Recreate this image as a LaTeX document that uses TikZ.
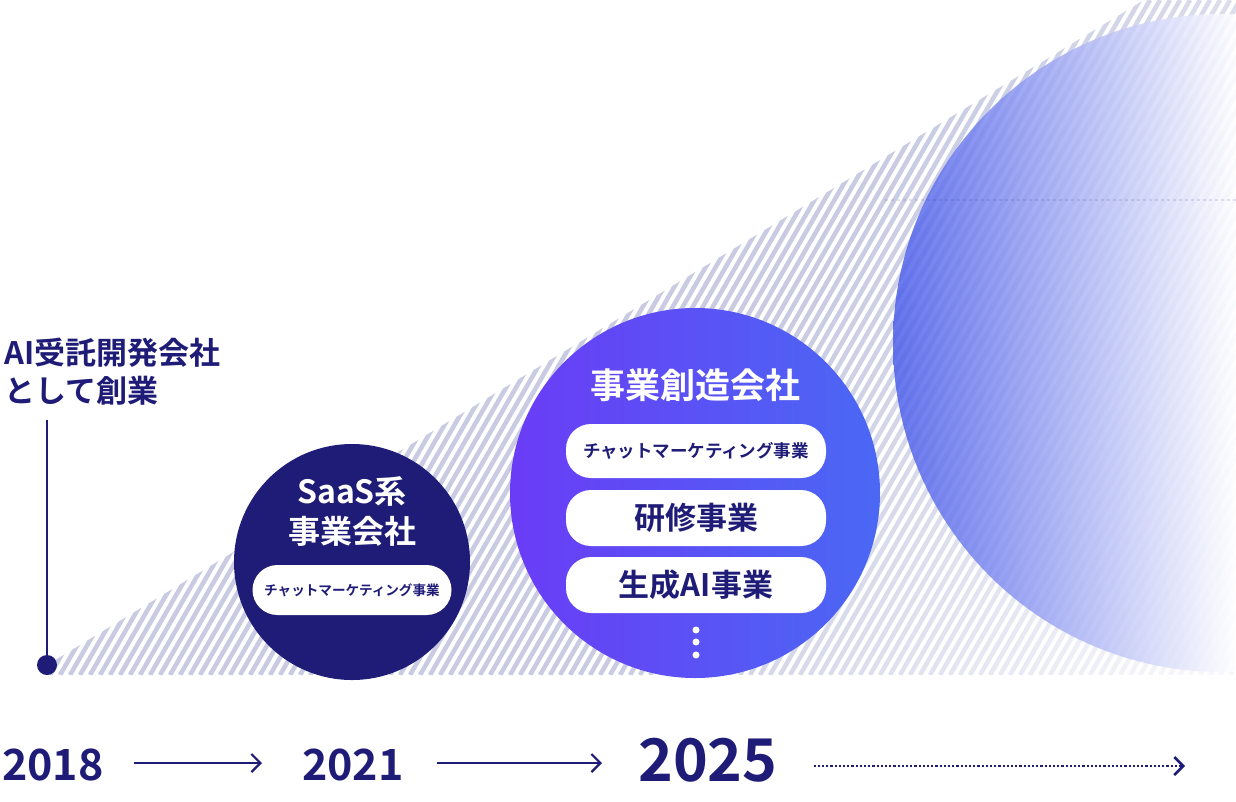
\documentclass[tikz,border=0pt]{standalone}
\usepackage{fontspec}
\setmainfont{Noto Sans CJK JP}[BoldFont={* Bold}]
\usetikzlibrary{arrows.meta}
\definecolor{navy}{HTML}{1F1C78}
\definecolor{stripe}{HTML}{C8CBE2}
\definecolor{purp}{HTML}{6A3CF6}
\definecolor{bluec}{HTML}{4A68F4}
\definecolor{bigblue}{HTML}{4C5EEA}
\tikzset{
  pill/.style={fill=white,rounded corners=25pt,minimum height=54pt,text=navy,font=\bfseries},
  year/.style={text=navy,font=\bfseries,anchor=west},
  tline/.style={navy,line width=2.2pt,-{Straight Barb[length=9pt,width=18pt]}}
}
\begin{document}
\begin{tikzpicture}[x=1pt,y=-1pt]
\useasboundingbox (0,0) rectangle (1236,801);
%stripes inside the triangle
\begin{scope}
\clip (47,665) -- (1144,0) -- (1236,0) -- (1236,675) -- (47,675) -- cycle;
\foreach \i in {0,...,166}{
  \pgfmathsetmacro{\xs}{\i*10-390}
  \pgfmathsetmacro{\mix}{max(15,100-max(0,\xs-600)/7)}
  \draw[stripe!\mix!white,line width=4.5pt] (\xs+390,0) -- (\xs,675);
}
\end{scope}
%big circle
\begin{scope}
\clip (1222,343) circle (329);
\shade[left color=bigblue,right color=white,opacity=0.85] (893,0) rectangle (1236,675);
\end{scope}
\draw[navy,opacity=0.12,dashed,line width=1.5pt] (885,200) -- (1236,200);
%founding
\draw[navy,line width=2pt] (47,420) -- (47,665);
\fill[navy] (47,665) circle (10);
\node[anchor=north west,align=left,text=navy,font=\bfseries\fontsize{31}{38}\selectfont,inner sep=0pt] (found) at (4,338) {AI受託開発会社\\として創業};
%SaaS
\fill[navy] (352,562) circle (118);
\node[align=center,text=white,font=\bfseries\fontsize{32}{40}\selectfont] (saas) at (352,512) {SaaS系\\事業会社};
\node[pill,minimum width=199pt,minimum height=50pt,font=\bfseries\fontsize{13.6}{16}\selectfont] (chat1) at (352,590) {チャットマーケティング事業};
%2025
\shade[left color=purp,right color=bluec] (695,493) circle (185);
\node[text=white,font=\bfseries\fontsize{35}{40}\selectfont] (souzou) at (695,385) {事業創造会社};
\node[pill,minimum width=260pt,font=\bfseries\fontsize{17.5}{20}\selectfont] (chat2) at (696,451) {チャットマーケティング事業};
\node[pill,minimum width=260pt,minimum height=56pt,font=\bfseries\fontsize{31}{34}\selectfont] (kenshu) at (696,518) {研修事業};
\node[pill,minimum width=260pt,minimum height=56pt,font=\bfseries\fontsize{31}{34}\selectfont] (seisei) at (696,585) {生成AI事業};
\foreach \y in {630,642,655} \fill[white] (696,\y) circle (3.5);
%years
\node[year,font=\bfseries\fontsize{43}{45}\selectfont,inner sep=0pt] (y18) at (2,765) {2018};
\node[year,font=\bfseries\fontsize{43}{45}\selectfont,inner sep=0pt] (y21) at (302,765) {2021};
\node[year,font=\bfseries\fontsize{59}{61}\selectfont,inner sep=0pt] (y25) at (638,760) {2025};
\coordinate (end) at (1185,766);
\draw[tline] ([xshift=30pt,yshift=2pt]y18.east) -- ([xshift=-40pt,yshift=2pt]y21.west);
\draw[tline] ([xshift=33pt,yshift=2pt]y21.east) -- ([xshift=-36pt,yshift=2pt]y21.east-|y25.west);
\draw[tline,dotted,line width=2.5pt] (end-|y25.east) ++(36,0) -- (end);
\end{tikzpicture}
\end{document}
